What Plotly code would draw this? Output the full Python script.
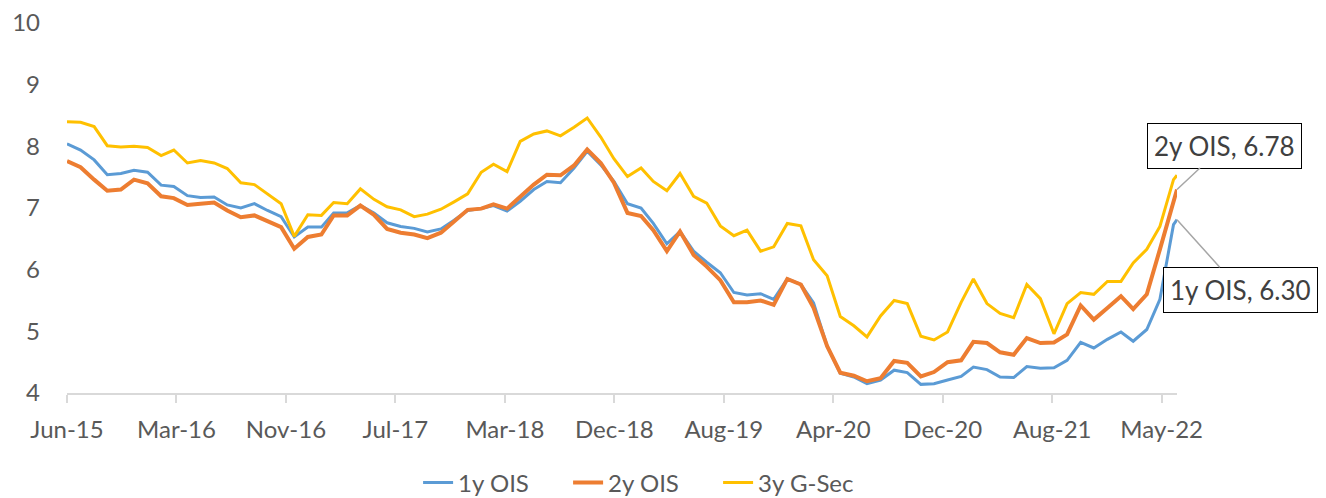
import pandas as pd
import plotly.graph_objects as go

# Month-end observations Jun-2015 .. May-2022, plus the latest reading in June 2022
dates = list(pd.date_range("2015-06-30", periods=84, freq=pd.offsets.MonthEnd())) + [pd.Timestamp("2022-06-08")]

ois_1y = [8.04, 7.94, 7.78, 7.54, 7.56, 7.61, 7.58, 7.37, 7.35, 7.20, 7.17, 7.18,
          7.05, 7.00, 7.07, 6.96, 6.86, 6.53, 6.69, 6.69, 6.92, 6.92, 7.04, 6.92,
          6.76, 6.70, 6.67, 6.61, 6.66, 6.80, 6.96, 6.99, 7.04, 6.95, 7.11, 7.30,
          7.43, 7.41, 7.65, 7.92, 7.70, 7.43, 7.07, 7.00, 6.75, 6.42, 6.62, 6.30,
          6.12, 5.95, 5.63, 5.59, 5.61, 5.52, 5.85, 5.76, 5.46, 4.76, 4.32, 4.26,
          4.15, 4.21, 4.37, 4.33, 4.14, 4.15, 4.21, 4.27, 4.42, 4.38, 4.26, 4.25,
          4.43, 4.40, 4.41, 4.53, 4.82, 4.73, 4.87, 4.99, 4.84, 5.03, 5.52, 6.73,
          6.81]

ois_2y = [7.76, 7.66, 7.46, 7.28, 7.30, 7.46, 7.40, 7.19, 7.16, 7.05, 7.07, 7.09,
          6.96, 6.85, 6.88, 6.78, 6.69, 6.34, 6.53, 6.57, 6.88, 6.88, 7.04, 6.89,
          6.66, 6.60, 6.57, 6.51, 6.60, 6.78, 6.97, 6.99, 7.06, 6.99, 7.19, 7.38,
          7.54, 7.53, 7.69, 7.95, 7.73, 7.41, 6.92, 6.87, 6.64, 6.30, 6.62, 6.24,
          6.05, 5.83, 5.47, 5.47, 5.50, 5.43, 5.85, 5.76, 5.38, 4.76, 4.33, 4.28,
          4.19, 4.24, 4.52, 4.49, 4.27, 4.34, 4.50, 4.53, 4.83, 4.81, 4.66, 4.62,
          4.89, 4.81, 4.82, 4.95, 5.42, 5.19, 5.38, 5.57, 5.36, 5.60, 6.33, 7.09,
          7.30]

gsec_3y = [8.40, 8.39, 8.32, 8.01, 7.99, 8.00, 7.98, 7.85, 7.94, 7.73, 7.77, 7.73,
           7.64, 7.41, 7.38, 7.23, 7.07, 6.54, 6.89, 6.88, 7.09, 7.07, 7.31, 7.14,
           7.02, 6.97, 6.86, 6.90, 6.98, 7.10, 7.23, 7.58, 7.71, 7.59, 8.08, 8.20,
           8.25, 8.17, 8.31, 8.46, 8.15, 7.80, 7.51, 7.65, 7.43, 7.28, 7.56, 7.19,
           7.08, 6.71, 6.55, 6.64, 6.30, 6.37, 6.75, 6.71, 6.16, 5.90, 5.24, 5.09,
           4.91, 5.25, 5.50, 5.45, 4.92, 4.86, 4.99, 5.47, 5.85, 5.45, 5.29, 5.22,
           5.76, 5.53, 4.96, 5.45, 5.63, 5.60, 5.81, 5.81, 6.11, 6.33, 6.70, 7.46,
           7.53]

series_names = ["1y OIS", "2y OIS", "3y G-Sec"]
series_colors = ["#5B9BD5", "#ED7D31", "#FFC000"]
series_widths = [3, 4, 3]
label_texts = {"2y OIS": "2y OIS, 6.78", "1y OIS": "1y OIS, 6.30"}

FONT = "Lato"
TXT = "#595959"

fig = go.Figure()
for name, vals, col, w in zip(series_names, [ois_1y, ois_2y, gsec_3y], series_colors, series_widths):
    fig.add_trace(go.Scatter(x=dates, y=vals, mode="lines", name=name,
                             line=dict(color=col, width=w), cliponaxis=False))

fig.add_annotation(x=dates[-1], y=ois_2y[-1], text=label_texts["2y OIS"],
                   showarrow=True, arrowhead=0, arrowwidth=1.5, arrowcolor="#A6A6A6",
                   ax=47, ay=-44, bordercolor="black", borderwidth=1, borderpad=6,
                   bgcolor="white", font=dict(family=FONT, size=26, color="#404040"))
fig.add_annotation(x=dates[-1], y=ois_1y[-1], text=label_texts["1y OIS"],
                   showarrow=True, arrowhead=0, arrowwidth=1.5, arrowcolor="#A6A6A6",
                   ax=63, ay=70, bordercolor="black", borderwidth=1, borderpad=6,
                   bgcolor="white", font=dict(family=FONT, size=26, color="#404040"))

# page body has an 8px default margin, so the figure is 8px smaller than the window
fig.update_layout(
    width=1318, height=490,
    margin=dict(l=59, r=149, t=15, b=105, autoexpand=False),
    paper_bgcolor="white", plot_bgcolor="white",
    font=dict(family=FONT, size=24, color=TXT),
    showlegend=True,
    legend=dict(orientation="h", x=0.519, xanchor="center", y=-0.243, yanchor="middle",
                entrywidth=105, entrywidthmode="pixels",
                font=dict(family=FONT, size=24, color=TXT)),
    xaxis=dict(type="date", range=[dates[0], dates[-1]],
               tickmode="linear", tick0="2015-06-30", dtick=250 * 86400000,
               tickformat="%b-%y", showgrid=False, zeroline=False,
               showline=True, linecolor="#D9D9D9", linewidth=1.5,
               ticks="outside", ticklen=8, tickcolor="#D9D9D9", tickwidth=1.5,
               ticklabelstandoff=6, ticklabeloverflow="allow",
               tickfont=dict(family=FONT, size=24, color=TXT)),
    yaxis=dict(range=[4, 10], dtick=1, showgrid=False, zeroline=False, showline=False,
               ticks="", ticklabelstandoff=26, ticklabeloverflow="allow",
               tickfont=dict(family=FONT, size=24, color=TXT)),
)

fig.write_html("out.html")
